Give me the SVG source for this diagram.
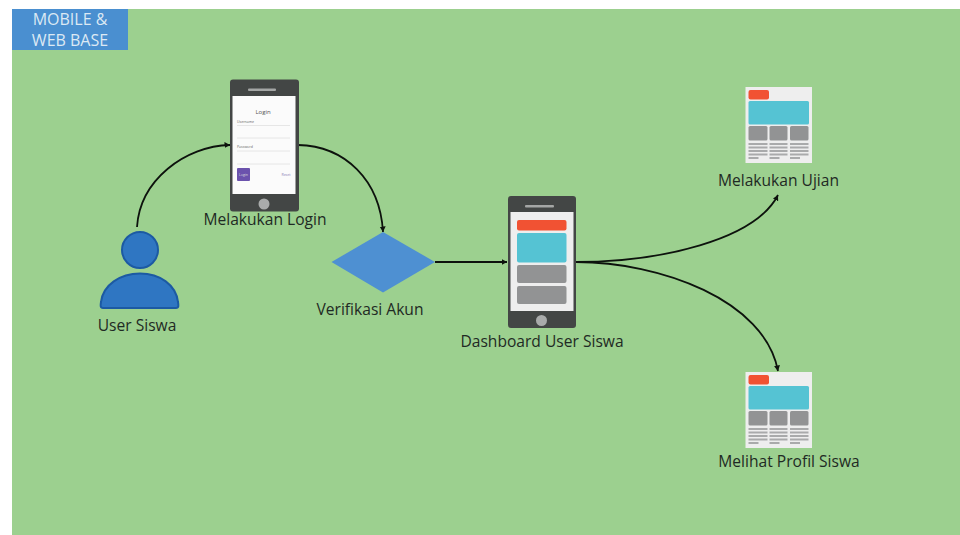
<svg xmlns="http://www.w3.org/2000/svg" width="960" height="535" viewBox="0 0 960 535">
<style>
text{font-family:"Open Sans","Noto Sans","Liberation Sans",sans-serif}
.lbl{font-size:15.600px;fill:#1f2a24;text-anchor:middle}
.ttl{font-size:16px;fill:#dce9f4;text-anchor:middle}
.tiny{font-size:3.500px;fill:#666}
.edge{fill:none;stroke:#0d120d;stroke-width:1.800}
.case{fill:#434645}
.btn{fill:#a9abab}
.spk{fill:#a4a6a5}
.red{fill:#f15233}
.teal{fill:#55c3d3}
.gray{fill:#929394}
.pg{fill:#eeeeee}
.ln{fill:#a9aaab}
.fld{stroke:#e6e6e6;stroke-width:1;fill:none}
</style>
<defs>
<marker id="ah" markerUnits="userSpaceOnUse" markerWidth="7" markerHeight="7" refX="5.500" refY="3.500" orient="auto">
<path d="M0 0.500L5.500 3.500L0 6.500z" fill="#0d120d"/>
</marker>
<g id="doc">
<rect class="pg" x="0" y="0" width="66.500" height="76"/>
<rect class="red" x="3" y="3" width="20.500" height="9.500" rx="2"/>
<rect class="teal" x="3" y="14" width="60.500" height="23.500" rx="1.500"/>
<rect class="gray" x="3" y="39" width="19" height="14.500" rx="1.500"/>
<rect class="gray" x="24" y="39" width="18" height="14.500" rx="1.500"/>
<rect class="gray" x="44.500" y="39" width="18.500" height="14.500" rx="1.500"/>
<g class="ln">
<rect x="3" y="56" width="19" height="2"/><rect x="24" y="56" width="18" height="2"/><rect x="44.500" y="56" width="18.500" height="2"/>
<rect x="3" y="59.500" width="19" height="2"/><rect x="24" y="59.500" width="18" height="2"/><rect x="44.500" y="59.500" width="18.500" height="2"/>
<rect x="3" y="63" width="19" height="2"/><rect x="24" y="63" width="18" height="2"/><rect x="44.500" y="63" width="18.500" height="2"/>
<rect x="3" y="66.500" width="19" height="2"/><rect x="24" y="66.500" width="18" height="2"/><rect x="44.500" y="66.500" width="18.500" height="2"/>
<rect x="3" y="70" width="10" height="2"/><rect x="24" y="70" width="10" height="2"/><rect x="44.500" y="70" width="10" height="2"/>
</g>
</g>
</defs>
<rect x="12" y="9" width="948" height="526" fill="#9cd08f"/>
<g id="title">
<rect x="12" y="9" width="116" height="41" fill="#4a8fd0"/>
<text class="ttl" x="70" y="25">MOBILE &amp;</text>
<text class="ttl" x="70" y="46">WEB BASE</text>
</g>
<g id="connectors">
<path class="edge" d="M137 227C140 180 185 146 230 145" marker-end="url(#ah)"/>
<path class="edge" d="M298 145C345 146 380 180 383 232" marker-end="url(#ah)"/>
<path class="edge" d="M435 262L507 262" marker-end="url(#ah)"/>
<path class="edge" d="M576 262C660 262 755 240 778 195" marker-end="url(#ah)"/>
<path class="edge" d="M576 262C660 262 765 300 778 371" marker-end="url(#ah)"/>
</g>
<g id="user-siswa">
<circle cx="140" cy="250" r="18" fill="#2f76c2" stroke="#1c5aa3" stroke-width="2"/>
<path d="M103 308C100 308 100.500 305 101 302C103 285 120 273.500 140 273.500C160 273.500 176 285 178 302C178.500 305 179 308 176 308Z" fill="#2f76c2" stroke="#1c5aa3" stroke-width="2" stroke-linejoin="round"/>
<text class="lbl" x="137" y="331">User Siswa</text>
</g>
<g id="melakukan-login">
<rect class="case" x="230" y="79.500" width="69" height="132" rx="3"/>
<rect class="spk" x="248" y="88.500" width="28" height="2.500" rx="1"/>
<rect x="232.500" y="96" width="63" height="98" fill="#fbfbfb"/>
<circle class="btn" cx="264" cy="204" r="5.500"/>
<text x="263" y="114" font-size="6" fill="#555" text-anchor="middle">Login</text>
<text class="tiny" x="237" y="122.500">Username</text>
<path class="fld" d="M237 125.500H290M237 138H290"/>
<text class="tiny" x="237" y="148">Password</text>
<path class="fld" d="M237 151H290M237 164H290"/>
<rect x="237" y="168" width="13" height="13" rx="1" fill="#6b52ad"/>
<text x="243.500" y="176" font-size="3.500" fill="#ddd" text-anchor="middle">Login</text>
<text x="286" y="176" font-size="3.500" fill="#8a7fb8" text-anchor="middle">Reset</text>
<text class="lbl" x="265" y="225">Melakukan Login</text>
</g>
<g id="verifikasi-akun">
<path d="M331.500 262L383 232L435 262L383 292.500Z" fill="#4e90d2"/>
<text class="lbl" x="370" y="315">Verifikasi Akun</text>
</g>
<g id="dashboard-user-siswa">
<rect class="case" x="508" y="196" width="68" height="132" rx="3"/>
<rect class="spk" x="525" y="205" width="29" height="2.500" rx="1"/>
<rect class="pg" x="510.500" y="212" width="63" height="99"/>
<rect class="red" x="517" y="220" width="49.500" height="10.500" rx="2"/>
<rect class="teal" x="517" y="233" width="49.500" height="29.500" rx="2"/>
<rect class="gray" x="517" y="265" width="49.500" height="18" rx="2"/>
<rect class="gray" x="517" y="286" width="49.500" height="18" rx="2"/>
<circle class="btn" cx="541.500" cy="320.500" r="5.500"/>
<text class="lbl" x="542" y="347">Dashboard User Siswa</text>
</g>
<g id="melakukan-ujian">
<use href="#doc" x="745.500" y="87"/>
<text class="lbl" x="778.500" y="186">Melakukan Ujian</text>
</g>
<g id="melihat-profil-siswa">
<use href="#doc" x="745.500" y="372"/>
<text class="lbl" x="789" y="467">Melihat Profil Siswa</text>
</g>
</svg>
